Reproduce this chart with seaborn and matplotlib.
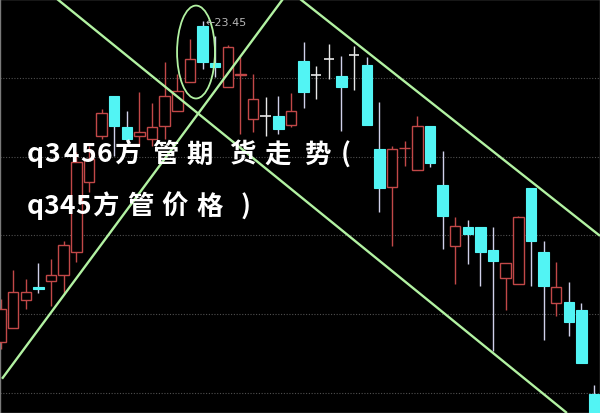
import matplotlib
matplotlib.use("Agg")
import matplotlib.pyplot as plt
import seaborn as sns
import numpy as np
from matplotlib.patches import Ellipse

# ---- data ----
opens = [15.29, 15.65, 16.36, 16.69, 16.84, 17.00, 17.58, 19.36, 20.53, 21.54, 20.76, 20.53,
         20.45, 20.78, 21.16, 21.90, 23.32, 22.38, 21.77, 22.07, 20.96, 21.03, 21.03, 20.81,
         22.43, 22.08, 22.48, 22.05, 22.58, 22.33, 20.20, 19.23, 20.21, 19.66, 20.78, 19.28,
         17.73, 18.22, 18.22, 17.63, 16.92, 16.77, 19.21, 17.58, 16.28, 16.31, 16.11, 13.97]
closes = [16.13, 16.56, 16.56, 16.64, 17.00, 17.76, 19.87, 19.94, 21.11, 20.78, 20.45, 20.63,
          20.76, 21.54, 21.67, 22.48, 22.41, 22.28, 22.79, 22.09, 21.47, 21.03, 20.70, 21.16,
          21.64, 22.08, 22.48, 21.77, 22.58, 20.81, 19.21, 20.20, 20.23, 20.78, 19.84, 18.49,
          18.24, 18.04, 17.58, 17.35, 17.30, 18.47, 17.86, 16.72, 16.69, 15.80, 14.76, 13.34]
highs = [16.39, 17.12, 16.89, 17.30, 17.40, 17.86, 20.12, 20.27, 21.21, 21.54, 21.16, 21.64,
         21.36, 22.41, 22.10, 22.99, 23.45, 23.07, 22.84, 22.53, 22.10, 21.52, 21.54, 21.62,
         22.91, 22.30, 22.86, 22.56, 22.81, 22.53, 21.39, 20.27, 20.40, 21.03, 20.78, 20.15,
         18.47, 18.39, 18.22, 18.22, 17.30, 18.49, 19.21, 17.86, 17.33, 16.82, 16.28, 14.20]
lows = [15.12, 15.65, 16.13, 16.54, 16.21, 16.51, 17.33, 19.10, 20.45, 20.02, 20.40, 20.27,
        20.27, 20.45, 21.16, 21.90, 22.23, 22.03, 21.77, 20.58, 20.63, 20.53, 20.58, 20.76,
        21.24, 21.47, 21.97, 20.65, 21.70, 20.81, 18.60, 17.73, 19.76, 19.66, 19.74, 17.66,
        16.77, 17.28, 16.72, 15.07, 16.11, 16.77, 16.72, 15.35, 15.95, 15.45, 14.76, 13.34]

peak_label = "←23.45"
peak_index = 16

# trend lines (start/end in candle index and price)
trend_x = [[4.47, 44.85], [0.12, 22.37], [23.71, 47.47]]
trend_y = [[24.01, 13.49], [14.36, 24.01], [24.01, 17.99]]

grid_levels = [14, 16, 18, 20, 22]

title_line1 = list("q3456方管期货走势(")
title_line2 = list("q345方管价格)")

# ---- style ----
sns.set_theme(style="dark", rc={"axes.facecolor": "black", "figure.facecolor": "black"})
plt.rcParams["font.family"] = ["Noto Sans CJK SC", "DejaVu Sans"]

RED = "#c24848"
CYAN = "#52f4f4"
DOWN_WICK = "#cfd0ea"
FLAT = "#e8e8e8"
GREEN = "#b2f2a2"

fig = plt.figure(figsize=(6.0, 4.14), dpi=100, facecolor="black")
ax = fig.add_axes([0, 0, 1, 1])
ax.set_facecolor("black")

n = len(opens)
x = np.arange(n)
o = np.array(opens); c = np.array(closes); h = np.array(highs); l = np.array(lows)
w = 0.83

for i in range(n):
    top, bot = max(o[i], c[i]), min(o[i], c[i])
    if c[i] > o[i]:
        ax.vlines(x[i], top, h[i], color=RED, lw=1.0, zorder=2)
        ax.vlines(x[i], l[i], bot, color=RED, lw=1.0, zorder=2)
        ax.bar(x[i], top - bot, bottom=bot, width=w, facecolor="black",
               edgecolor=RED, linewidth=1.0, zorder=3)
    elif c[i] < o[i]:
        ax.vlines(x[i], l[i], h[i], color=DOWN_WICK, lw=1.0, zorder=2)
        ax.bar(x[i], top - bot, bottom=bot, width=w, facecolor=CYAN,
               edgecolor=CYAN, linewidth=0.8, zorder=3)
    else:
        ax.vlines(x[i], l[i], h[i], color=FLAT, lw=1.0, zorder=2)
        ax.hlines(o[i], x[i] - w / 2, x[i] + w / 2, color=FLAT, lw=1.2, zorder=3)

# grid
for g in grid_levels:
    ax.axhline(g, color="#505050", lw=0.8, ls=(0, (1, 1.5)), zorder=1)

# trend lines
for tx, ty in zip(trend_x, trend_y):
    ax.plot(tx, ty, color=GREEN, lw=1.7, zorder=4, solid_capstyle="butt")

# circle around the peak
ax.add_patch(Ellipse((15.48, 22.66), 3.0, 2.36, fill=False, edgecolor=GREEN, lw=1.3, zorder=4))

ax.text(peak_index + 0.2, highs[peak_index] - 0.03, peak_label, color="#b8b8b8",
        fontsize=8, va="center", ha="left", family=["DejaVu Sans"], zorder=5)

ax.set_xlim(-0.04, 47.47)
ax.set_ylim(13.49, 24.007)
ax.set_xticks([]); ax.set_yticks([])
for s in ax.spines.values():
    s.set_color("#7a7a7a"); s.set_linewidth(1.0)

# overlay title text, character by character (centres in pixels)
pos1 = [35, 52, 71, 88, 104, 127, 165, 200, 242, 278, 317, 346]
pos2 = [35, 51, 67, 83, 105, 140, 175, 210, 246]
for ch, px in zip(title_line1, pos1):
    fig.text(px / 600, 1 - 155 / 414, ch, color="white", fontsize=19, fontweight="bold",
             va="center", ha="center", zorder=10)
for ch, px in zip(title_line2, pos2):
    fig.text(px / 600, 1 - 207 / 414, ch, color="white", fontsize=19, fontweight="bold",
             va="center", ha="center", zorder=10)

fig.savefig("out.png", dpi=100, facecolor="black")
